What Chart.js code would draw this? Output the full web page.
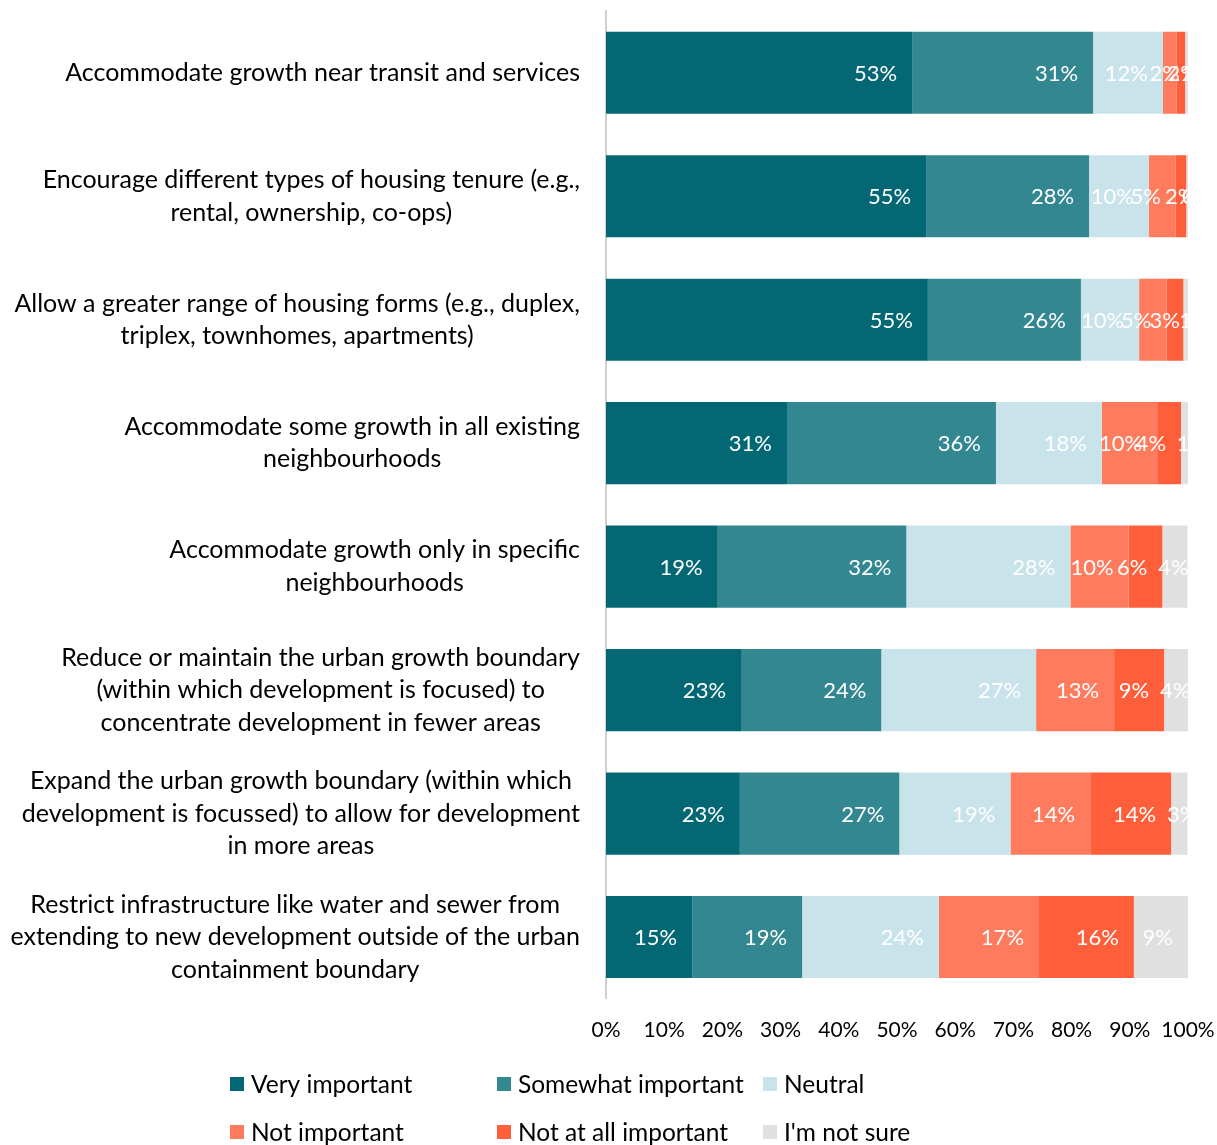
<!DOCTYPE html>
<html>
<head>
<meta charset="utf-8">
<script src="https://cdn.jsdelivr.net/npm/chart.js@4.4.1/dist/chart.umd.min.js"></script>
<style>
  html, body { margin: 0; padding: 0; background: #fff; }
  #wrap { position: relative; width: 1217px; height: 1145px; }
</style>
</head>
<body>
<div id="wrap"><canvas id="c" width="1217" height="1145"></canvas></div>
<script>
const categories = [
  ['Accommodate growth near transit and services'],
  ['Encourage different types of housing tenure (e.g.,', 'rental, ownership, co-ops)'],
  ['Allow a greater range of housing forms (e.g., duplex,', 'triplex, townhomes, apartments)'],
  ['Accommodate some growth in all existing', 'neighbourhoods'],
  ['Accommodate growth only in specific', 'neighbourhoods'],
  ['Reduce or maintain the urban growth boundary', '(within which development is focused) to', 'concentrate development in fewer areas'],
  ['Expand the urban growth boundary (within which', 'development is focussed) to allow for development', 'in more areas'],
  ['Restrict infrastructure like water and sewer from', 'extending to new development outside of the urban', 'containment boundary']
];
const seriesNames = ['Very important', 'Somewhat important', 'Neutral', 'Not important', 'Not at all important', "I'm not sure"];
const veryImportant     = [52.6, 55.0, 55.3, 31.1, 19.2, 23.2, 23.0, 14.8];
const somewhatImportant = [31.1, 28.0, 26.3, 35.9, 32.4, 24.1, 27.4, 18.9];
const neutral           = [12.0, 10.3, 10.0, 18.2, 28.2, 26.6, 19.1, 23.5];
const notImportant      = [2.3, 4.6, 4.7, 9.5, 10.0, 13.4, 13.7, 17.2];
const notAtAll          = [1.5, 1.8, 2.9, 4.1, 5.8, 8.6, 13.9, 16.3];
const notSure           = [0.5, 0.3, 0.8, 1.2, 4.3, 4.1, 2.8, 9.3];
const xTickValues = [0, 10, 20, 30, 40, 50, 60, 70, 80, 90, 100];
const colors = ['#046874', '#338790', '#C9E3EA', '#FF7B5E', '#FF5E3A', '#E0E0E0'];

const FONT = 'Lato, "Open Sans", sans-serif';
const seriesData = [veryImportant, somewhatImportant, neutral, notImportant, notAtAll, notSure];

const yLabelPlugin = {
  id: 'yLabels',
  afterDraw(chart) {
    const ctx = chart.ctx;
    const ys = chart.scales.y;
    const rightEdge = chart.chartArea.left - 26;
    const lh = 32.5;
    ctx.save();
    ctx.font = '25px ' + FONT;
    ctx.fillStyle = '#000';
    ctx.textBaseline = 'middle';
    ctx.textAlign = 'center';
    chart.data.labels.forEach((lines, i) => {
      const y = ys.getPixelForValue(i);
      const w = Math.max(...lines.map(l => ctx.measureText(l).width));
      const cx = rightEdge - w / 2;
      const y0 = y - (lines.length - 1) * lh / 2;
      lines.forEach((l, k) => ctx.fillText(l, cx, y0 + k * lh));
    });
    ctx.restore();
  }
};

const barLabelPlugin = {
  id: 'barLabels',
  afterDatasetsDraw(chart) {
    const ctx = chart.ctx;
    const area = chart.chartArea;
    const inset = 15;
    const nSets = chart.data.datasets.length;
    ctx.save();
    ctx.beginPath();
    ctx.rect(area.left, area.top, area.right - area.left, area.bottom - area.top);
    ctx.clip();
    ctx.font = '22px ' + FONT;
    ctx.fillStyle = '#fff';
    ctx.textAlign = 'center';
    ctx.textBaseline = 'middle';
    chart.data.datasets.forEach((ds, di) => {
      const meta = chart.getDatasetMeta(di);
      meta.data.forEach((bar, i) => {
        const v = ds.data[i];
        const txt = Math.round(v) + '%';
        const lw = ctx.measureText(txt).width;
        const w = bar.x - bar.base;
        const full = inset + lw / 2;
        const small = di === nSets - 1 ? w - 11 : 2 * w - 15;
        const off = Math.min(full, small);
        ctx.fillText(txt, bar.x - off, bar.y + 1);
      });
    });
    ctx.restore();
  }
};

const legendPlugin = {
  id: 'customLegend',
  afterDraw(chart) {
    const ctx = chart.ctx;
    const cols = [230, 497, 763];
    const rows = [1084, 1132];
    ctx.save();
    ctx.font = '24.5px ' + FONT;
    ctx.textBaseline = 'middle';
    ctx.textAlign = 'left';
    chart.data.datasets.forEach((ds, i) => {
      const x = cols[i % 3];
      const y = rows[Math.floor(i / 3)];
      ctx.fillStyle = ds.backgroundColor;
      ctx.fillRect(x, y - 7, 14, 14);
      ctx.fillStyle = '#000';
      ctx.fillText(ds.label, x + 21, y + 1);
    });
    ctx.restore();
  }
};

new Chart(document.getElementById('c'), {
  type: 'bar',
  data: {
    labels: categories,
    datasets: seriesNames.map((name, i) => ({
      label: name,
      data: seriesData[i],
      backgroundColor: colors[i],
      borderWidth: 0,
      categoryPercentage: 1,
      barPercentage: 0.665
    }))
  },
  options: {
    indexAxis: 'y',
    responsive: false,
    animation: false,
    layout: { padding: { top: 11, right: 29, bottom: 91, left: 0 } },
    plugins: { legend: { display: false }, tooltip: { enabled: false } },
    scales: {
      x: {
        stacked: true,
        min: 0, max: 100,
        afterBuildTicks: s => { s.ticks = xTickValues.map(v => ({ value: v })); },
        afterFit: s => { s.paddingRight = 0; s.paddingLeft = 0; },
        ticks: {
          callback: v => v + '%',
          font: { family: FONT, size: 21 },
          color: '#000',
          padding: 11,
          maxRotation: 0,
          autoSkip: false
        },
        grid: { display: false },
        border: { display: false }
      },
      y: {
        stacked: true,
        ticks: { display: false },
        grid: { display: false },
        border: { display: true, color: '#CFCFCF', width: 2 },
        afterFit: s => { s.width = 606; }
      }
    }
  },
  plugins: [yLabelPlugin, barLabelPlugin, legendPlugin]
});
</script>
</body>
</html>
